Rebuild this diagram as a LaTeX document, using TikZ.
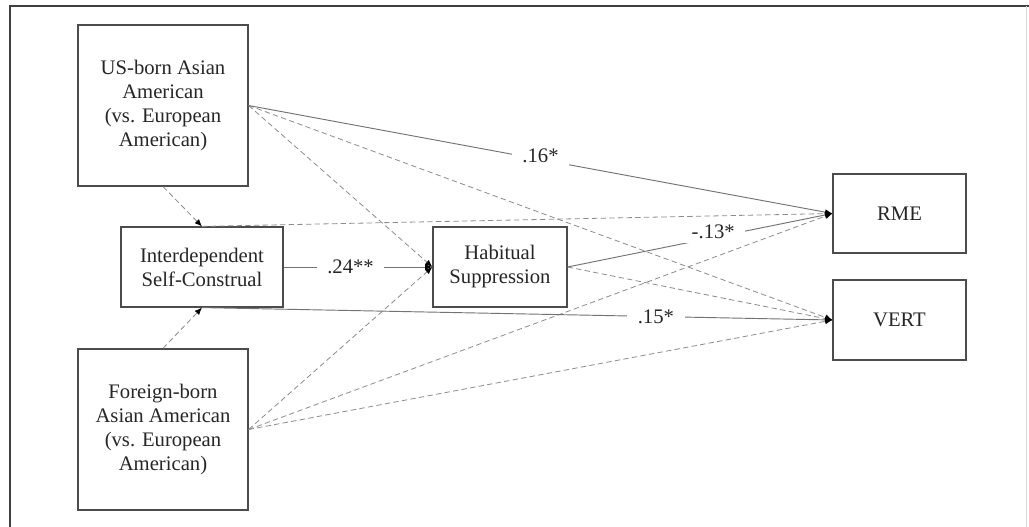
\documentclass[tikz,border=0pt]{standalone}
\usepackage{fontspec}
\setmainfont{Liberation Serif}
\usetikzlibrary{arrows.meta}
\begin{document}
\begin{tikzpicture}[x=0.75pt,y=-0.75pt,
  box/.style={draw=black!70,line width=0.9pt,fill=white,text=black!85,align=center,
    font=\fontsize{15.5}{18}\selectfont,inner sep=0pt},
  solidarr/.style={draw=black!55,line width=0.7pt,-{Latex[length=5.5pt,width=4.5pt,black]}},
  dasharr/.style={draw=black!45,line width=0.6pt,dash pattern=on 4pt off 2.5pt,-{Latex[length=5.5pt,width=4.5pt,black]}},
  lbl/.style={fill=white,text=black!85,font=\fontsize{15.5}{18}\selectfont,inner xsep=8pt,inner ysep=3pt}]
\useasboundingbox (0,0) rectangle (1029,527);
\fill[white] (0,0) rectangle (1029,527);
% frame
\draw[black!75,line width=1pt] (10,527) -- (10,6) -- (1029,6);
\draw[black!15,line width=0.5pt] (1026,6) -- (1026,527);
% boxes
\node[box,minimum width=127.5pt,minimum height=120.75pt] (us) at (163,105.5) {US-born Asian\\American\\(vs. European\\American)};
\node[box,minimum width=127.5pt,minimum height=120.75pt] (fb) at (163,429.5) {Foreign-born\\Asian American\\(vs. European\\American)};
\node[box,minimum width=121.5pt,minimum height=60pt] (isc) at (202,267) {Interdependent\\Self-Construal};
\node[box,minimum width=100.5pt,minimum height=60pt] (hs) at (500,267) {Habitual\\Suppression};
\node[box,minimum width=99.75pt,minimum height=59.25pt] (rme) at (899.5,213.5) {RME};
\node[box,minimum width=99.75pt,minimum height=60pt] (vert) at (899.5,320) {VERT};
% dashed paths
\draw[dasharr] (us.south) -- (isc.north);
\draw[dasharr] (fb.north) -- (isc.south);
\draw[dasharr] (us.east) -- (hs.west);
\draw[dasharr] (us.east) -- (vert.west);
\draw[dasharr] (isc.north) -- (rme.west);
\draw[dasharr] (hs.east) -- (vert.west);
\draw[dasharr] (fb.east) -- (hs.west);
\draw[dasharr] (fb.east) -- (rme.west);
\draw[dasharr] (fb.east) -- (vert.west);
% solid paths with labels
\draw[solidarr] (us.east) -- node[lbl,pos=0.5,yshift=3pt] (l16) {.16*} (rme.west);
\draw[solidarr] (isc.east) -- node[lbl,pos=0.45] (l24) {.24**} (hs.west);
\draw[solidarr] (hs.east) -- node[lbl,pos=0.55,yshift=4pt] (l13) {-.13*} (rme.west);
\draw[solidarr] (isc.south) -- node[lbl,pos=0.72] (l15) {.15*} (vert.west);
\end{tikzpicture}
\end{document}
